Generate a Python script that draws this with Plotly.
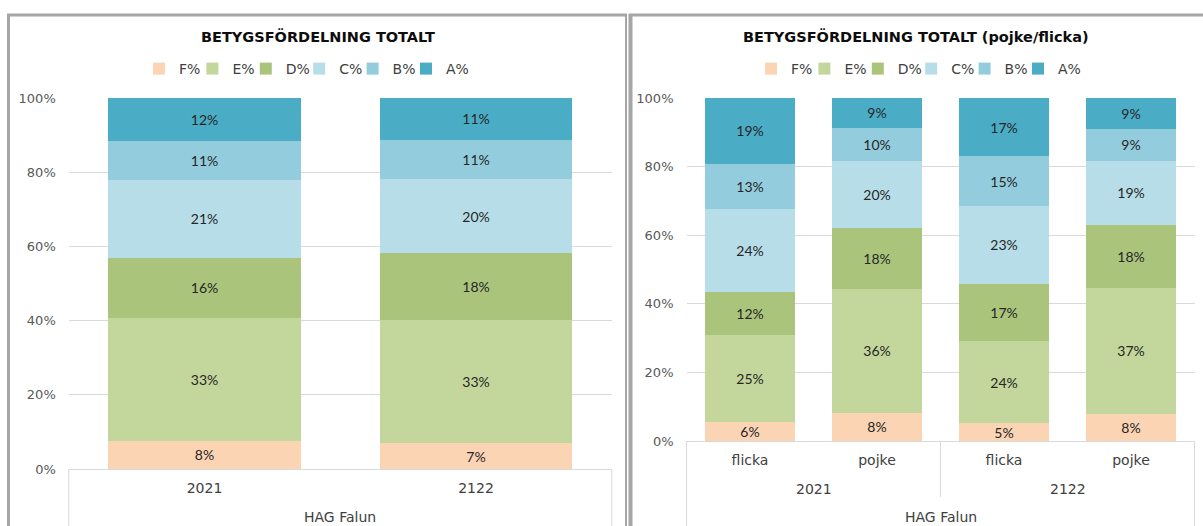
import plotly.graph_objects as go

W, H = 1203, 526

grades = ["F%", "E%", "D%", "C%", "B%", "A%"]
colors = ["#FBD4B4", "#C3D69B", "#ABC47B", "#B7DEE8", "#93CDDD", "#4BACC6"]

# Left chart: total per year
left_school = "HAG Falun"
left_years = ["2021", "2122"]
left_vals = {
    "F%": [7.6, 7.0],
    "E%": [33.0, 33.2],
    "D%": [16.4, 17.9],
    "C%": [20.9, 20.0],
    "B%": [10.6, 10.6],
    "A%": [11.5, 11.3],
}

# Right chart: per year and gender
right_years = ["2021", "2021", "2122", "2122"]
right_gender = ["flicka", "pojke", "flicka", "pojke"]
right_vals = {
    "F%": [5.6, 8.3, 5.2, 7.8],
    "E%": [25.4, 36.1, 23.9, 36.9],
    "D%": [12.4, 17.7, 16.8, 18.3],
    "C%": [24.3, 19.6, 22.5, 18.7],
    "B%": [13.1, 9.6, 14.6, 9.2],
    "A%": [19.2, 8.7, 17.0, 9.1],
}
right_keys = [f"{y}|{g}" for y, g in zip(right_years, right_gender)]

LABEL_FONT = dict(family="Lato", size=14, color="#262626")
AX_FONT = "DejaVu Sans"
AX_COLOR = "#404040"

fig = go.Figure()
for i, (g, c) in enumerate(zip(grades, colors)):
    lw = 26 if i == len(grades) - 1 else None
    fig.add_trace(go.Bar(
        x=left_years, y=[v / 100 for v in left_vals[g]],
        name=g, marker=dict(color=c, line=dict(width=0)), width=0.71,
        text=left_vals[g], texttemplate="%{text:.0f}%", textposition="inside",
        insidetextanchor="middle", textangle=0, textfont=LABEL_FONT,
        xaxis="x", yaxis="y", legend="legend", hoverinfo="skip", legendwidth=lw,
    ))
for i, (g, c) in enumerate(zip(grades, colors)):
    lw = 26 if i == len(grades) - 1 else None
    fig.add_trace(go.Bar(
        x=right_keys, y=[v / 100 for v in right_vals[g]],
        name=g, marker=dict(color=c, line=dict(width=0)), width=0.71,
        text=right_vals[g], texttemplate="%{text:.0f}%", textposition="inside",
        insidetextanchor="middle", textangle=0, textfont=LABEL_FONT,
        xaxis="x2", yaxis="y2", legend="legend2", hoverinfo="skip", legendwidth=lw,
    ))

def px(x):
    return x / W

def py(y):
    return (H - y) / H

grid = "#D9D9D9"
lx0, lx1, ly0, ly1 = 68.75, 611.75, 469, 98
rx0, rx1, ry0, ry1 = 686.5, 1194.5, 441, 98

xax = dict(type="category", showgrid=False, showline=True, linecolor=grid, linewidth=1,
           ticks="", tickfont=dict(family=AX_FONT, size=14, color=AX_COLOR), zeroline=False,
           ticklabelstandoff=6, fixedrange=True)
yax = dict(range=[0, 1], tickvals=[0, 0.2, 0.4, 0.6, 0.8, 1.0], tickformat=".0%",
           showgrid=True, gridcolor=grid, gridwidth=1, zeroline=False, showline=False,
           tickfont=dict(family=AX_FONT, size=13, color="#595959"), ticks="",
           ticklabelstandoff=12, fixedrange=True)

legend_common = dict(orientation="h", yanchor="middle", xanchor="left",
                     font=dict(family=AX_FONT, size=14, color=AX_COLOR), itemwidth=30,
                     entrywidth=8.4, bgcolor="rgba(0,0,0,0)", traceorder="normal",
                     borderwidth=0)

fig.update_layout(
    width=W, height=H, margin=dict(l=0, r=0, t=0, b=0, autoexpand=False),
    paper_bgcolor="white", plot_bgcolor="white", barmode="stack",
    uniformtext=dict(minsize=14, mode="show"),
    xaxis=dict(xax, domain=[px(lx0), px(lx1)], anchor="y"),
    yaxis=dict(yax, domain=[py(ly0), py(ly1)], anchor="x"),
    xaxis2=dict(xax, domain=[px(rx0), px(rx1)], anchor="y2",
                tickvals=right_keys, ticktext=right_gender),
    yaxis2=dict(yax, domain=[py(ry0), py(ry1)], anchor="x2"),
    legend=dict(legend_common, x=px(139), y=py(69)),
    legend2=dict(legend_common, x=px(751), y=py(69)),
    showlegend=True,
)

border = "#A6A6A6"
shapes = [
    # left panel frame
    dict(type="line", xref="paper", yref="paper", x0=px(8.5), x1=px(8.5), y0=py(14), y1=py(530), line=dict(color=border, width=3)),
    dict(type="line", xref="paper", yref="paper", x0=px(7), x1=px(627), y0=py(15), y1=py(15), line=dict(color=border, width=3)),
    dict(type="line", xref="paper", yref="paper", x0=px(626), x1=px(626), y0=py(14), y1=py(530), line=dict(color=border, width=2)),
    # right panel frame
    dict(type="line", xref="paper", yref="paper", x0=px(630.5), x1=px(630.5), y0=py(14), y1=py(530), line=dict(color=border, width=4)),
    dict(type="line", xref="paper", yref="paper", x0=px(629), x1=px(1210), y0=py(15), y1=py(15), line=dict(color=border, width=3)),
    # axis label box sides
    dict(type="line", xref="paper", yref="paper", x0=px(lx0), x1=px(lx0), y0=py(ly0), y1=py(530), line=dict(color=grid, width=1)),
    dict(type="line", xref="paper", yref="paper", x0=px(lx1), x1=px(lx1), y0=py(ly0), y1=py(530), line=dict(color=grid, width=1)),
    dict(type="line", xref="paper", yref="paper", x0=px(rx0), x1=px(rx0), y0=py(ry0), y1=py(530), line=dict(color=grid, width=1)),
    dict(type="line", xref="paper", yref="paper", x0=px(rx1), x1=px(rx1), y0=py(ry0), y1=py(530), line=dict(color=grid, width=1)),
]

# group divider and year labels for right chart (between year groups)
years_unique = list(dict.fromkeys(right_years))
for i, yr in enumerate(years_unique):
    idx = [k for k, y in enumerate(right_years) if y == yr]
    fig.add_annotation(text=yr, x=sum(idx) / len(idx), xref="x2", y=py(489), yref="paper",
                       showarrow=False, font=dict(family=AX_FONT, size=14, color=AX_COLOR),
                       xanchor="center", yanchor="middle")
    if i > 0:
        shapes.append(dict(type="line", xref="x2", yref="paper", x0=idx[0] - 0.5, x1=idx[0] - 0.5,
                           y0=py(ry0), y1=py(497), line=dict(color=grid, width=1)))
fig.update_layout(shapes=shapes)

title_font = dict(family="DejaVu Sans", size=14.5, color="#0D0D0D")
fig.add_annotation(text="<b>BETYGSFÖRDELNING TOTALT</b>", x=px(318), y=py(36), xref="paper", yref="paper",
                   showarrow=False, font=title_font, xanchor="center", yanchor="middle")
fig.add_annotation(text="<b>BETYGSFÖRDELNING TOTALT (pojke/flicka)</b>", x=px(916), y=py(36), xref="paper", yref="paper",
                   showarrow=False, font=title_font, xanchor="center", yanchor="middle")
for dom in [(lx0, lx1), (rx0, rx1)]:
    fig.add_annotation(text=left_school, x=px((dom[0] + dom[1]) / 2), y=py(517), xref="paper", yref="paper",
                       showarrow=False, font=dict(family=AX_FONT, size=14, color=AX_COLOR),
                       xanchor="center", yanchor="middle")

fig.write_html("out.html", config={"displayModeBar": False},
               post_script="document.body.style.margin='0';document.body.style.overflow='hidden';")
